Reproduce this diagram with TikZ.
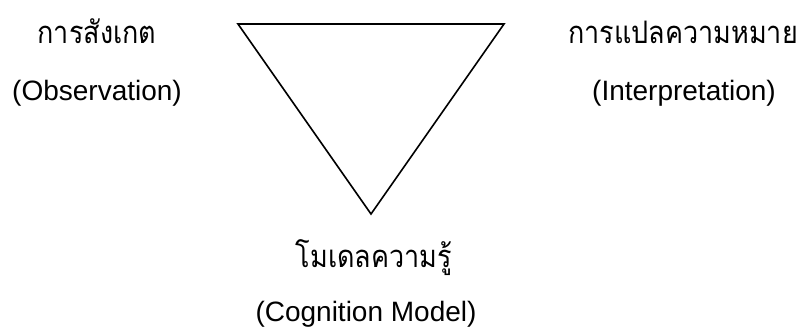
\documentclass[tikz,border=0pt]{standalone}
\usepackage{fontspec}
\setmainfont{Liberation Sans}
\newfontfamily\thaifont[Script=Thai,FakeStretch=0.87]{Loma}
\usetikzlibrary{positioning}
\begin{document}
\begin{tikzpicture}[x=1pt,y=-1pt]
\tikzset{
  thailabel/.style={anchor=base,inner sep=0pt,font=\thaifont\fontsize{31}{36}\selectfont},
  englabel/.style={anchor=base,inner sep=0pt,font=\fontsize{28}{32}\selectfont},
  triedge/.style={draw=black,line width=1.6pt,line join=miter}
}
\useasboundingbox (0,0) rectangle (801,327);
\coordinate (t_l) at (238,24);
\coordinate (t_r) at (504,24);
\coordinate (t_b) at (371,214);
\node[thailabel] (n_obs_th) at (97,43) {การสังเกต};
\node[englabel] (n_obs_en) at (97,100) {(Observation)};
\node[thailabel] (n_int_th) at (683,43) {การแปลความหมาย};
\node[englabel] (n_int_en) at (684,100) {(Interpretation)};
\node[thailabel] (n_cog_th) at (374,267) {โมเดลความรู้};
\node[englabel] (n_cog_en) at (366,321) {(Cognition Model)};
\draw[triedge] (t_l) -- (t_r) -- (t_b) -- cycle;
\end{tikzpicture}
\end{document}
